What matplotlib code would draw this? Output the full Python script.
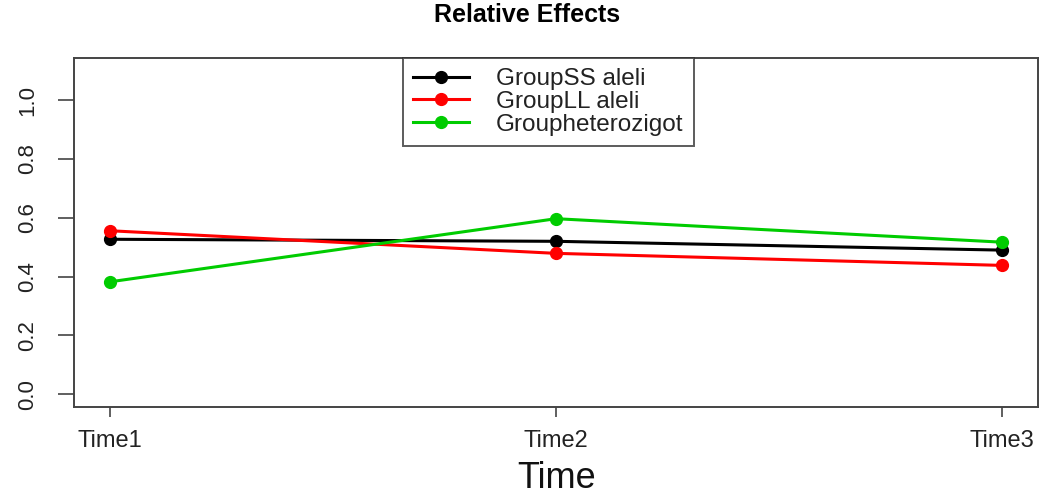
import matplotlib
matplotlib.use("Agg")
import matplotlib.pyplot as plt

plt.rcParams['font.family'] = ['Liberation Sans', 'DejaVu Sans']

times = ["Time1", "Time2", "Time3"]
series_names = ["GroupSS aleli", "GroupLL aleli", "Groupheterozigot"]
group_ss = [0.527, 0.520, 0.490]
group_ll = [0.556, 0.479, 0.438]
group_het = [0.382, 0.597, 0.517]
colors = ["black", "#ff0000", "#00cc00"]
yticks = [0.0, 0.2, 0.4, 0.6, 0.8, 1.0]

W, H = 1044, 499
fig = plt.figure(figsize=(W/100, H/100), dpi=100)
ax = fig.add_axes([74/W, 1-407/H, (1038-74)/W, (407-58)/H])

x = list(range(1, len(times) + 1))
for vals, name, c in zip([group_ss, group_ll, group_het], series_names, colors):
    ax.plot(x, vals, color=c, lw=2.2, marker='o', ms=8.5, label=name)

ax.set_xlim(1 - 0.08, 3 + 0.08)
ax.set_ylim(-0.044, 1.144)
ax.set_xticks(x)
ax.set_xticklabels(times, fontsize=17, color='#222222')
ax.set_yticks(yticks)
ax.set_yticklabels([f"{v:.1f}" for v in yticks], fontsize=16, rotation=90,
                   va='center', color='#222222')
ax.tick_params(axis='x', direction='out', length=7.5, width=1.2, color='#444444', pad=9)
ax.tick_params(axis='y', direction='out', length=11.5, width=1.2, color='#444444', pad=14)
for s in ax.spines.values():
    s.set_color('#444444')
    s.set_linewidth(1.4)

fig.text(557/W, 1-478/H, "Time", fontsize=26, ha='center', va='center', color='#111111')
fig.text(527/W, 1-15/H, "Relative Effects", fontsize=18, fontweight='bold',
         ha='center', va='center')

leg = ax.legend(loc='upper left', bbox_to_anchor=((403-74)/(1038-74), 1.0),
                borderaxespad=0, fontsize=17.5, frameon=True, fancybox=False,
                edgecolor='#333333', handlelength=2.3, borderpad=0.42,
                labelspacing=0.03, handletextpad=1.1)
leg.get_frame().set_linewidth(1.4)
for t in leg.get_texts():
    t.set_color('#222222')

fig.savefig("out.png", dpi=100)
